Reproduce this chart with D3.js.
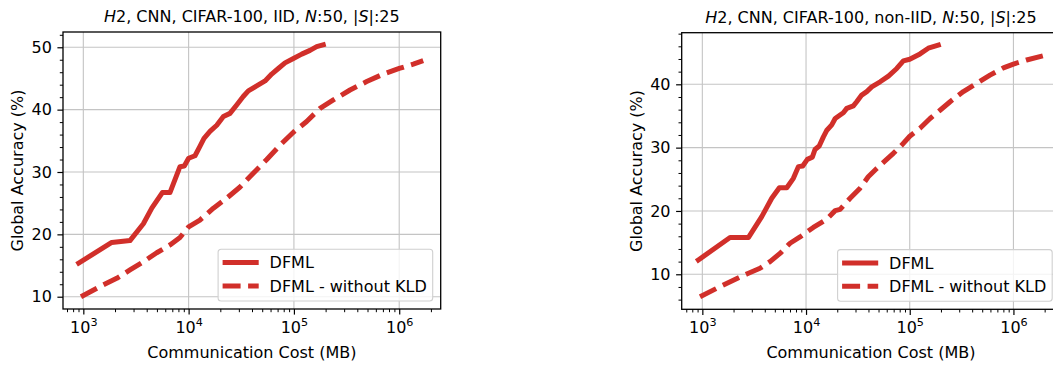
<!DOCTYPE html>
<html>
<head>
<meta charset="utf-8">
<script src="https://cdn.jsdelivr.net/npm/d3@7"></script>
<style>
  html, body { margin: 0; padding: 0; background: #fff; }
  svg { display: block; }
  text { font-family: "DejaVu Sans", sans-serif; fill: #000; }
</style>
</head>
<body>
<svg id="chart" width="1053" height="367"></svg>
<script>
// ---- Data: communication cost (MB) vs. global accuracy (%) ----
const iidDfmlCost = [904, 1862, 2774, 3717, 4470, 5630, 6650, 8280, 9100, 10000, 11500, 12800, 14000,
  15950, 18500, 21400, 24700, 28600, 33000, 36900, 44300, 53200, 61500, 71100, 82300, 98900,
  118600, 142200, 164500, 190000];
const iidDfmlAcc = [15.4, 18.7, 19.0, 21.7, 24.2, 26.7, 26.7, 30.85, 30.95, 32.2, 32.6, 34.1, 35.4,
  36.5, 37.5, 38.9, 39.4, 40.75, 42.1, 43.0, 43.8, 44.6, 45.7, 46.6, 47.5, 48.2,
  48.9, 49.5, 50.1, 50.4];

const iidNoKldCost = [950, 1550, 2075, 2774, 3717, 4980, 6650, 8280, 10000, 12800, 17200, 23000,
  30800, 41100, 55200, 73800, 100000, 132100, 177000, 236800, 341000, 491000, 706000, 1000000,
  1360000, 1690000];
const iidNoKldAcc = [10.0, 11.9, 12.95, 14.3, 15.6, 17.05, 18.3, 19.5, 21.2, 22.3, 24.2, 25.8,
  27.6, 29.8, 32.0, 34.3, 36.45, 38.1, 40.2, 41.55, 43.15, 44.5, 45.7, 46.6,
  47.3, 47.85];

const nonIidDfmlCost = [915, 1850, 2780, 3740, 4670, 5530, 6520, 7550, 8440, 9290, 10300, 11500,
  12200, 13400, 14700, 15800, 17700, 19100, 21300, 22900, 24700, 28600, 30800, 34400, 38500,
  43000, 51800, 62300, 75000, 86800, 100000, 125600, 151000, 188700];
const nonIidDfmlAcc = [12.26, 15.8, 15.8, 19.1, 22.0, 23.67, 23.67, 25.15, 27.0, 27.1, 28.15, 28.5,
  29.7, 30.25, 31.7, 32.7, 33.6, 34.6, 35.15, 35.5, 36.2, 36.6, 37.25, 38.3, 38.85,
  39.6, 40.4, 41.3, 42.5, 43.7, 43.95, 44.8, 45.7, 46.2];

const nonIidNoKldCost = [950, 1480, 2680, 3600, 4500, 5610, 7010, 8750, 11750, 15800, 19100, 21300,
  26600, 33200, 39800, 48000, 57800, 69500, 83700, 100000, 125600, 157000, 196000, 245000,
  329000, 442000, 594000, 800000, 1000000, 1340000, 1920000];
const nonIidNoKldAcc = [6.46, 8.04, 10.05, 10.95, 12.0, 13.3, 14.9, 15.9, 17.4, 18.7, 20.05, 20.26,
  22.0, 23.6, 25.4, 26.7, 27.9, 29.1, 30.4, 31.8, 33.05, 34.6, 35.9, 37.25,
  38.85, 40.15, 41.45, 42.6, 43.2, 43.84, 44.5];

// ---- Labels and ticks ----
const seriesNames = ["DFML", "DFML - without KLD"];
const xTickValues = [1e3, 1e4, 1e5, 1e6];
const xTickExponents = ["3", "4", "5", "6"];
const yTicksIid = [10, 20, 30, 40, 50];
const yTicksNonIid = [10, 20, 30, 40];
const xAxisTitle = "Communication Cost (MB)";
const yAxisTitle = "Global Accuracy (%)";
// title pieces: [text, italic?]
const titleIid = [["H", true], ["2, CNN, CIFAR-100, IID, ", false], ["N", true], [":50, |", false], ["S", true], ["|:25", false]];
const titleNonIid = [["H", true], ["2, CNN, CIFAR-100, non-IID, ", false], ["N", true], [":50, |", false], ["S", true], ["|:25", false]];

// ---- Styling ----
const RED = "#d12f2a";
const LINE_W = 5;
const DASH = "18,7.5";
const GRID = "#c4c4c4";
const FONT = 16;

const svg = d3.select("#chart");

const panels = [
  {
    box: { x0: 63, x1: 440.7, y0: 32, y1: 309 },
    xDomain: [Math.pow(10, 2.807), Math.pow(10, 6.394)],
    yDomain: [8.03, 52.45],
    yTicks: yTicksIid,
    title: titleIid,
    yLabelX: 23,
    series: [
      { cost: iidDfmlCost, acc: iidDfmlAcc, dash: null },
      { cost: iidNoKldCost, acc: iidNoKldAcc, dash: DASH }
    ]
  },
  {
    box: { x0: 681.7, x1: 1060.2, y0: 32.7, y1: 309.3 },
    xDomain: [Math.pow(10, 2.801), Math.pow(10, 6.451)],
    yDomain: [4.47, 48.15],
    yTicks: yTicksNonIid,
    title: titleNonIid,
    yLabelX: 641.5,
    series: [
      { cost: nonIidDfmlCost, acc: nonIidDfmlAcc, dash: null },
      { cost: nonIidNoKldCost, acc: nonIidNoKldAcc, dash: DASH }
    ]
  }
];

function drawPanel(p) {
  const b = p.box;
  const x = d3.scaleLog().domain(p.xDomain).range([b.x0, b.x1]);
  const y = d3.scaleLinear().domain(p.yDomain).range([b.y1, b.y0]);
  const g = svg.append("g");

  // grid
  g.append("g").selectAll("line").data(xTickValues).join("line")
    .attr("x1", d => x(d)).attr("x2", d => x(d))
    .attr("y1", b.y0).attr("y2", b.y1)
    .attr("stroke", GRID).attr("stroke-width", 1.1);
  g.append("g").selectAll("line").data(p.yTicks).join("line")
    .attr("x1", b.x0).attr("x2", b.x1)
    .attr("y1", d => y(d)).attr("y2", d => y(d))
    .attr("stroke", GRID).attr("stroke-width", 1.1);

  // minor tick values
  const xMinor = [];
  for (let e = 2; e <= 6; e++) {
    for (let m = 2; m <= 9; m++) {
      const v = m * Math.pow(10, e);
      if (v >= p.xDomain[0] && v <= p.xDomain[1]) xMinor.push(v);
    }
  }
  const yMinor = d3.range(Math.ceil(p.yDomain[0] / 2) * 2, p.yDomain[1], 2)
    .filter(v => v % 10 !== 0);

  // x axis
  const xAxisG = g.append("g").attr("transform", `translate(0,${b.y1})`);
  xAxisG.call(d3.axisBottom(x).tickValues(xTickValues).tickSize(5.6).tickPadding(5.6).tickFormat(() => ""));
  xAxisG.select(".domain").remove();
  xAxisG.selectAll(".tick line").attr("stroke", "#000").attr("stroke-width", 1.2);
  xAxisG.selectAll(".tick text").remove();
  xAxisG.selectAll(".tick").each(function (d, i) {
    const t = d3.select(this).append("text")
      .attr("y", 24).attr("text-anchor", "middle")
      .style("font-size", FONT + "px");
    t.append("tspan").text("10");
    t.append("tspan").attr("dy", -7).style("font-size", "11.2px").text(xTickExponents[i]);
  });
  const xMinorG = g.append("g").attr("transform", `translate(0,${b.y1})`);
  xMinorG.call(d3.axisBottom(x).tickValues(xMinor).tickSize(3.2).tickFormat(() => ""));
  xMinorG.select(".domain").remove();
  xMinorG.selectAll(".tick line").attr("stroke", "#000").attr("stroke-width", 1);

  // y axis
  const yAxisG = g.append("g").attr("transform", `translate(${b.x0},0)`);
  yAxisG.call(d3.axisLeft(y).tickValues(p.yTicks).tickSize(5.6).tickPadding(5.6).tickFormat(d3.format("d")));
  yAxisG.select(".domain").remove();
  yAxisG.selectAll(".tick line").attr("stroke", "#000").attr("stroke-width", 1.2);
  yAxisG.selectAll(".tick text")
    .style("font-size", FONT + "px").style("font-family", "DejaVu Sans").attr("fill", "#000");
  const yMinorG = g.append("g").attr("transform", `translate(${b.x0},0)`);
  yMinorG.call(d3.axisLeft(y).tickValues(yMinor).tickSize(3.2).tickFormat(() => ""));
  yMinorG.select(".domain").remove();
  yMinorG.selectAll(".tick line").attr("stroke", "#000").attr("stroke-width", 1);

  // series lines
  p.series.forEach(s => {
    const pts = s.cost.map((c, i) => [c, s.acc[i]]);
    const line = d3.line().x(d => x(d[0])).y(d => y(d[1]));
    const path = g.append("path").datum(pts)
      .attr("d", line)
      .attr("fill", "none")
      .attr("stroke", RED)
      .attr("stroke-width", LINE_W)
      .attr("stroke-linejoin", "round");
    if (s.dash) path.attr("stroke-dasharray", s.dash).attr("stroke-linecap", "butt");
    else path.attr("stroke-linecap", "square");
  });

  // axes frame
  g.append("rect")
    .attr("x", b.x0).attr("y", b.y0)
    .attr("width", b.x1 - b.x0).attr("height", b.y1 - b.y0)
    .attr("fill", "none").attr("stroke", "#000").attr("stroke-width", 1.3);

  // title
  const title = g.append("text")
    .attr("x", (b.x0 + b.x1) / 2).attr("y", b.y0 - 9.8)
    .attr("text-anchor", "middle").style("font-size", FONT + "px");
  p.title.forEach(([txt, it]) => {
    title.append("tspan").style("font-style", it ? "italic" : "normal").text(txt);
  });

  // axis titles
  g.append("text")
    .attr("x", (b.x0 + b.x1) / 2).attr("y", 357.5)
    .attr("text-anchor", "middle").style("font-size", FONT + "px")
    .text(xAxisTitle);
  g.append("text")
    .attr("transform", `translate(${p.yLabelX},${(b.y0 + b.y1) / 2}) rotate(-90)`)
    .attr("text-anchor", "middle").style("font-size", FONT + "px")
    .text(yAxisTitle);

  // legend (lower right)
  const lw = 214.6, lh = 51.7;
  const lx = b.x1 - 8 - lw, ly = b.y1 - 8 - lh;
  const leg = g.append("g").attr("transform", `translate(${lx},${ly})`);
  leg.append("rect")
    .attr("x", 0).attr("y", 0).attr("width", lw).attr("height", lh)
    .attr("rx", 3).attr("ry", 3)
    .attr("fill", "#fff").attr("fill-opacity", 0.8)
    .attr("stroke", "#d0d0d0").attr("stroke-width", 1.1);
  seriesNames.forEach((name, i) => {
    const cy = 13.3 + i * 23.4;
    const l = leg.append("line")
      .attr("x1", 4.5).attr("x2", 40.6)
      .attr("y1", cy).attr("y2", cy)
      .attr("stroke", RED).attr("stroke-width", LINE_W);
    if (p.series[i].dash) l.attr("stroke-dasharray", p.series[i].dash);
    leg.append("text")
      .attr("x", 51.5).attr("y", cy + 5.8)
      .style("font-size", FONT + "px")
      .text(name);
  });
}

panels.forEach(drawPanel);
</script>
</body>
</html>
